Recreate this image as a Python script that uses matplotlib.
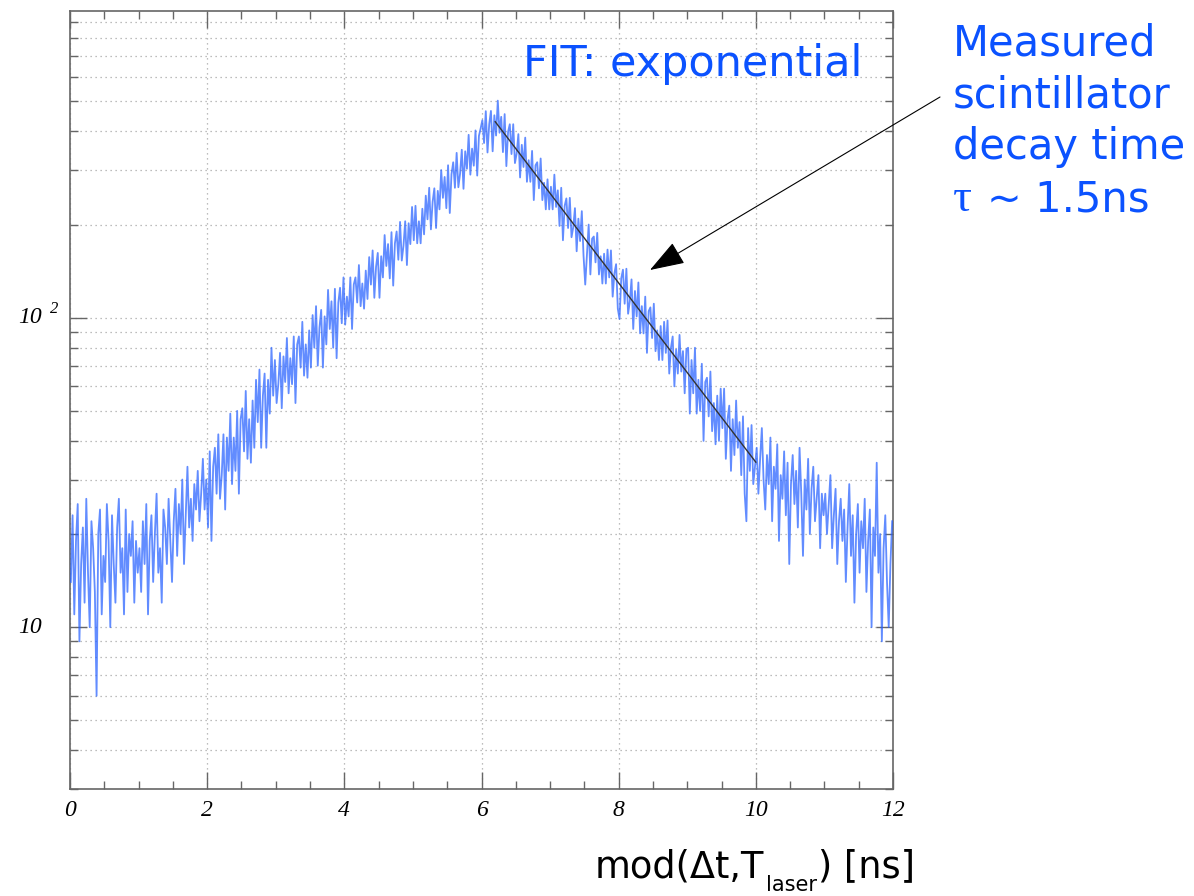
import numpy as np
import matplotlib
matplotlib.use("Agg")
import matplotlib.pyplot as plt
from matplotlib.ticker import MultipleLocator, LogLocator, NullFormatter
from matplotlib.transforms import blended_transform_factory, offset_copy

# Histogram of arrival times modulo the laser period, 0-12 ns (two lines per ns)
counts = [
    14, 23, 11, 19, 25, 9, 16, 21, 12, 26, 15, 10, 22, 18, 13, 6, 20, 24, 11, 17,
    14, 25, 19, 10, 23, 16, 12, 21, 26, 15, 18, 11, 24, 13, 20, 17, 22, 12, 19, 15,
    18, 13, 22, 16, 25, 11, 19, 23, 14, 20, 27, 15, 18, 12, 24, 21, 16, 26, 19, 14,
    22, 28, 17, 25, 20, 30, 16, 23, 33, 21, 26, 19, 29, 24, 32, 22, 27, 35, 24, 30,
    21, 37, 19, 33, 38, 27, 42, 26, 31, 42, 24, 41, 32, 49, 29, 41, 32, 50, 27, 47,
    51, 37, 58, 35, 47, 34, 54, 38, 63, 46, 68, 38, 56, 66, 38, 63, 49, 80, 56, 73,
    53, 61, 77, 51, 75, 62, 86, 57, 74, 61, 87, 53, 82, 87, 69, 97, 65, 82, 64, 91,
    69, 102, 80, 109, 70, 93, 106, 69, 101, 82, 123, 92, 113, 80, 124, 74, 112, 125, 96, 135,
    95, 117, 101, 135, 92, 128, 135, 112, 148, 109, 129, 107, 142, 115, 157, 128, 165, 116, 146, 162,
    116, 158, 135, 185, 147, 173, 134, 189, 127, 174, 190, 154, 204, 153, 171, 205, 148, 202, 173, 228,
    178, 230, 174, 205, 174, 225, 186, 248, 208, 263, 193, 237, 262, 195, 257, 224, 300, 244, 285, 226,
    311, 218, 291, 318, 263, 341, 264, 292, 349, 261, 345, 303, 390, 290, 352, 310, 403, 288, 387, 409,
    435, 367, 465, 342, 422, 466, 345, 451, 388, 503, 396, 446, 343, 455, 309, 399, 422, 338, 422, 316,
    339, 392, 284, 362, 307, 382, 275, 323, 275, 346, 240, 311, 318, 262, 327, 240, 273, 224, 280, 224,
    265, 224, 290, 228, 258, 198, 263, 178, 230, 243, 195, 244, 182, 196, 226, 164, 209, 177, 221, 159,
    128, 159, 200, 138, 180, 183, 151, 188, 138, 158, 129, 161, 129, 166, 135, 165, 117, 139, 149, 107,
    99, 134, 143, 111, 144, 103, 113, 133, 92, 122, 101, 130, 89, 109, 89, 117, 77, 105, 108, 86,
    111, 78, 91, 73, 94, 73, 97, 77, 98, 66, 80, 87, 60, 79, 66, 88, 67, 78, 57, 79,
    80, 49, 73, 57, 80, 49, 63, 50, 71, 40, 62, 64, 48, 67, 43, 53, 39, 56, 40, 59,
    44, 59, 35, 47, 52, 32, 47, 36, 54, 38, 46, 31, 48, 27, 22, 44, 32, 45, 29, 33,
    38, 27, 35, 44, 30, 24, 36, 29, 41, 22, 33, 28, 39, 19, 31, 26, 37, 23, 34, 16,
    29, 36, 25, 32, 21, 38, 27, 17, 30, 24, 35, 20, 28, 33, 22, 26, 31, 18, 27, 23,
    27, 20, 25, 31, 18, 23, 28, 16, 22, 26, 19, 24, 14, 21, 29, 17, 23, 12, 20, 25,
    15, 22, 18, 26, 13, 19, 24, 10, 21, 17, 34, 15, 20, 9, 18, 23, 14, 10, 16, 22,
]
t_min, t_max = 0.0, 12.0

# Exponential fit of the falling edge
fit_t_start = 6.2
fit_t_end = 10.0
fit_amplitude = 430.0
fit_tau = 1.5

x_ticks = [0, 2, 4, 6, 8, 10, 12]
x_tick_labels = ["0", "2", "4", "6", "8", "10", "12"]

W, H = 1194, 896
fig = plt.figure(figsize=(W / 100, H / 100), dpi=100)
ax = fig.add_axes([70 / W, 107 / H, 823 / W, 778 / H])

bin_width = (t_max - t_min) / len(counts)
t = t_min + (np.arange(len(counts)) + 0.5) * bin_width
ax.plot(t, counts, color="#2560ff", lw=1.3, alpha=0.72, zorder=3)

t_fit = np.linspace(fit_t_start, fit_t_end, 200)
ax.plot(t_fit, fit_amplitude * np.exp(-(t_fit - fit_t_start) / fit_tau),
        color="#333333", lw=1.0, zorder=4)

ax.set_yscale("log")
ax.set_xlim(t_min, t_max)
ax.set_ylim(3, 980)

ax.xaxis.set_minor_locator(MultipleLocator(0.5))
ax.set_xticks(x_ticks)
ax.set_xticklabels(x_tick_labels, fontfamily="Liberation Serif", fontstyle="italic", fontsize=17)
ax.yaxis.set_major_locator(LogLocator(base=10))
ax.yaxis.set_minor_locator(LogLocator(base=10, subs=range(2, 10)))
ax.yaxis.set_major_formatter(NullFormatter())
ax.yaxis.set_minor_formatter(NullFormatter())

frame_col = "#666666"
ax.tick_params(which="both", direction="in", top=True, right=True, color=frame_col)
ax.tick_params(which="major", length=12, width=1.0)
ax.tick_params(which="minor", length=6, width=1.0)
ax.tick_params(axis="x", which="major", pad=8)
for sp in ax.spines.values():
    sp.set_color(frame_col)
    sp.set_linewidth(1.2)

grid_kw = dict(color="#a8a8a8", linestyle=(0, (1, 3)), linewidth=0.9)
ax.grid(True, which="major", axis="x", **grid_kw)
ax.grid(True, which="both", axis="y", **grid_kw)
ax.set_axisbelow(True)

# y tick labels, left aligned with the power as a raised digit
serif_it = dict(fontfamily="Liberation Serif", fontstyle="italic")
tr = blended_transform_factory(fig.transFigure, ax.transData)
ax.text(18 / W, 10, "10", transform=tr, ha="left", va="center", fontsize=17, **serif_it)
ax.text(18 / W, 100, "10", transform=tr, ha="left", va="center", fontsize=17, **serif_it)
ax.text(50 / W, 100, "2", transform=offset_copy(tr, fig=fig, y=9, units="dots"),
        ha="left", va="center", fontsize=12, **serif_it)

blue = "#0b52ff"
fig.text(523 / W, 1 - 76 / H, "FIT: exponential", color=blue, fontsize=31,
         ha="left", va="baseline", fontfamily="DejaVu Sans")

lines = ["Measured", "scintillator", "decay time"]
baselines = [55, 107, 159]
for txt, b in zip(lines, baselines):
    fig.text(953 / W, 1 - b / H, txt, color=blue, fontsize=30, ha="left",
             va="baseline", fontfamily="DejaVu Sans")
fig.text(953 / W, 1 - 211 / H, "\u03c4", color=blue, fontsize=34, ha="left",
         va="baseline", fontfamily="Liberation Serif")
fig.text(987 / W, 1 - 211 / H, "~ 1.5ns", color=blue, fontsize=30, ha="left",
         va="baseline", fontfamily="DejaVu Sans")

ax.annotate("", xy=(650, H - 270), xycoords="figure pixels",
            xytext=(940, H - 97), textcoords="figure pixels",
            arrowprops=dict(arrowstyle="-|>,head_length=1.1,head_width=0.38",
                            mutation_scale=20, color="black", lw=0.8,
                            shrinkA=0, shrinkB=0),
            annotation_clip=False)

# x axis title assembled from pieces so the subscript can be small
renderer = fig.canvas.get_renderer()
base_y = 877
t1 = fig.text(595 / W, 1 - base_y / H, "mod(\u0394t,T", fontsize=26.5,
              ha="left", va="baseline", fontfamily="DejaVu Sans")
x_next = t1.get_window_extent(renderer).x1 + 2
t2 = fig.text(x_next / W, 1 - (base_y + 14) / H, "laser", fontsize=15,
              ha="left", va="baseline", fontfamily="DejaVu Sans")
x_next = t2.get_window_extent(renderer).x1 + 1
fig.text(x_next / W, 1 - base_y / H, ") [ns]", fontsize=26.5,
         ha="left", va="baseline", fontfamily="DejaVu Sans")

fig.savefig("out.png", dpi=100)
